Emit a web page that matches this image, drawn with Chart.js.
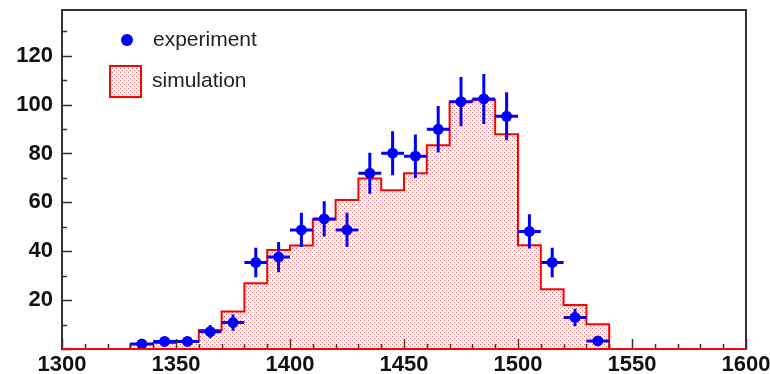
<!DOCTYPE html>
<html>
<head>
<meta charset="utf-8">
<script src="https://cdn.jsdelivr.net/npm/chart.js@4"></script>
<style>
  html, body { margin: 0; padding: 0; background: #fff; }
  #wrap { width: 770px; height: 374px; }
</style>
</head>
<body>
<div id="wrap"><canvas id="hist-chart" width="770" height="374"></canvas></div>
<script>
// histogram bins (lower edges + last upper edge) and simulated counts
const binEdges = [1330, 1340, 1350, 1360, 1370, 1380, 1390, 1400, 1410, 1420, 1430,
                  1440, 1450, 1460, 1470, 1480, 1490, 1500, 1510, 1520, 1530, 1540];
const simCounts = [2, 2.5, 3, 7.8, 15.3, 26.9, 40.5, 42.3, 53, 61, 69.8,
                   65, 71.9, 83.4, 101.2, 101.9, 87.9, 42.4, 24.4, 18, 10.1];

// measured points (bin centres), counts and errors
const expX = [1335, 1345, 1355, 1365, 1375, 1385, 1395, 1405, 1415, 1425, 1435,
              1445, 1455, 1465, 1475, 1485, 1495, 1505, 1515, 1525, 1535];
const expY = [2, 3.1, 3.1, 7.1, 10.8, 35.4, 37.6, 48.7, 53.2, 48.7, 71.9,
              80.1, 78.9, 89.9, 101.2, 102.3, 95.2, 48.1, 35.4, 12.9, 3.3];
const expErr = [1.4, 1.8, 1.8, 2.7, 3.3, 6.0, 6.2, 7.0, 7.2, 7.0, 8.4,
                9.0, 8.9, 9.5, 10.1, 10.2, 9.8, 7.0, 6.0, 3.6, 1.8];
const expXErr = 5;

const xTicks = [1300, 1350, 1400, 1450, 1500, 1550, 1600];
const yTicks = [20, 40, 60, 80, 100, 120];

const ctx = document.getElementById('hist-chart').getContext('2d');

// red dot hatch like the ROOT fill style
const pc = document.createElement('canvas');
pc.width = 4; pc.height = 4;
const pctx = pc.getContext('2d');
pctx.fillStyle = 'rgba(255, 40, 40, 0.7)';
pctx.fillRect(0, 0, 1, 1);
pctx.fillRect(2, 2, 1, 1);
const dots = ctx.createPattern(pc, 'repeat');

// stepped outline: flat zero on both sides of the filled range
const simPoints = [{ x: 1300, y: 0 }];
simCounts.forEach((c, i) => simPoints.push({ x: binEdges[i], y: c }));
simPoints.push({ x: binEdges[binEdges.length - 1], y: 0 });
simPoints.push({ x: 1600, y: 0 });

const expPoints = expX.map((x, i) => ({ x: x, y: expY[i] }));

const frameAndTicks = {
    id: 'frameAndTicks',
    afterDatasetsDraw(chart) {
        const c = chart.ctx, a = chart.chartArea;
        const xs = chart.scales.x, ys = chart.scales.y;
        c.save();
        // error bars
        c.strokeStyle = '#0000ff';
        c.lineWidth = 3;
        expX.forEach((x, i) => {
            const px = xs.getPixelForValue(x);
            const py = ys.getPixelForValue(expY[i]);
            c.beginPath();
            c.moveTo(px, ys.getPixelForValue(expY[i] - expErr[i]));
            c.lineTo(px, ys.getPixelForValue(expY[i] + expErr[i]));
            c.moveTo(xs.getPixelForValue(x - expXErr), py);
            c.lineTo(xs.getPixelForValue(x + expXErr), py);
            c.stroke();
        });
        // inner ticks
        c.strokeStyle = '#333';
        c.lineWidth = 1.5;
        c.beginPath();
        for (let v = 1300; v <= 1600; v += 10) {
            const px = Math.round(xs.getPixelForValue(v)) + 0.5;
            const len = v % 50 === 0 ? 10 : 5;
            c.moveTo(px, a.bottom);
            c.lineTo(px, a.bottom - len);
        }
        for (let v = 0; v <= 130; v += 10) {
            const py = Math.round(ys.getPixelForValue(v)) + 0.5;
            const len = v % 20 === 0 ? 10 : 5;
            c.moveTo(a.left, py);
            c.lineTo(a.left + len, py);
        }
        c.stroke();
        // frame
        c.lineWidth = 2;
        c.strokeRect(a.left, a.top, a.right - a.left, a.bottom - a.top);
        // red base line over the bottom axis, like the reference
        c.strokeStyle = '#ff0000';
        c.beginPath();
        c.moveTo(a.left, a.bottom);
        c.lineTo(a.right, a.bottom);
        c.stroke();
        c.restore();
    },
    afterDraw(chart) {
        // legend inside the plot, top left
        const c = chart.ctx;
        c.save();
        c.fillStyle = '#0000ff';
        c.beginPath();
        c.arc(127, 40, 6, 0, Math.PI * 2);
        c.fill();
        c.fillStyle = '#fff';
        c.fillRect(110, 66, 31, 31);
        c.fillStyle = dots;
        c.fillRect(110, 66, 31, 31);
        c.strokeStyle = '#ff0000';
        c.lineWidth = 2;
        c.strokeRect(110, 66, 31, 31);
        c.fillStyle = '#222';
        c.font = '21px "Liberation Sans", Arial, sans-serif';
        c.textBaseline = 'middle';
        c.fillText(chart.data.datasets[0].label, 153, 40);
        c.fillText(chart.data.datasets[1].label, 152, 81);
        c.restore();
    }
};

const tickFont = { family: '"Liberation Sans", Arial, sans-serif', size: 22, weight: 'bold' };

new Chart(ctx, {
    type: 'scatter',
    data: {
        datasets: [{
            label: 'experiment',
            data: expPoints,
            pointRadius: 5.5,
            pointHoverRadius: 5.5,
            pointBackgroundColor: '#0000ff',
            pointBorderColor: '#0000ff',
            pointBorderWidth: 0
        }, {
            type: 'line',
            label: 'simulation',
            data: simPoints,
            stepped: 'before',
            showLine: true,
            fill: 'origin',
            backgroundColor: dots,
            borderColor: '#ff0000',
            borderWidth: 2,
            pointRadius: 0,
            tension: 0
        }]
    },
    options: {
        responsive: false,
        animation: false,
        events: [],
        layout: { padding: { top: 10, right: 24, left: 0, bottom: 0 } },
        plugins: {
            legend: { display: false },
            tooltip: { enabled: false }
        },
        scales: {
            x: {
                type: 'linear',
                min: 1300,
                max: 1600,
                afterBuildTicks: s => { s.ticks = xTicks.map(v => ({ value: v })); },
                afterFit: s => { s.height = 25; s.paddingLeft = 0; s.paddingRight = 0; },
                grid: { display: false, drawTicks: false },
                border: { display: false },
                ticks: {
                    autoSkip: false,
                    maxRotation: 0,
                    padding: 3,
                    color: '#111',
                    font: tickFont,
                    callback: v => String(v)
                }
            },
            y: {
                min: 0,
                max: 138.7,
                afterBuildTicks: s => { s.ticks = yTicks.map(v => ({ value: v })); },
                afterFit: s => { s.width = 62; s.paddingTop = 0; s.paddingBottom = 0; },
                grid: { display: false, drawTicks: false },
                border: { display: false },
                ticks: {
                    padding: 9,
                    color: '#111',
                    font: tickFont,
                    callback: v => String(v)
                }
            }
        }
    },
    plugins: [frameAndTicks]
});
</script>
</body>
</html>
